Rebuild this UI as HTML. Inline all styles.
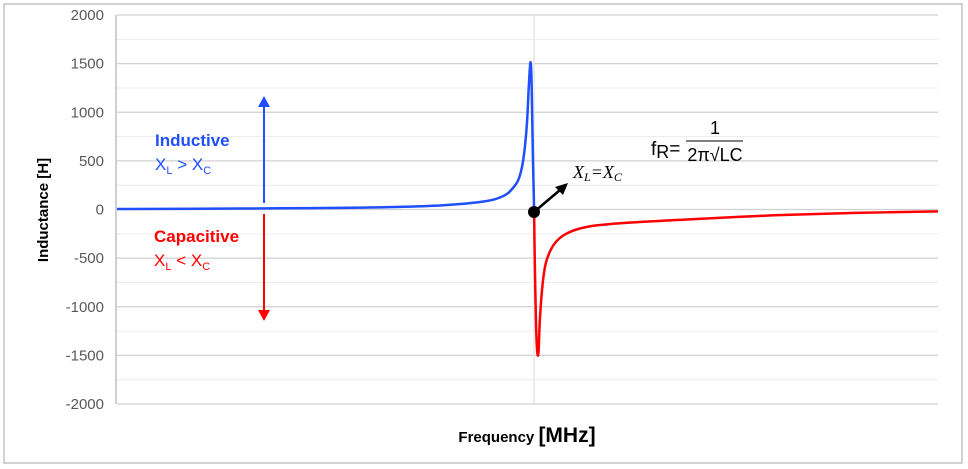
<!DOCTYPE html>
<html><head><meta charset="utf-8"><style>
html,body{margin:0;padding:0;background:#fff;}
svg{display:block;font-family:"Liberation Sans",Arial,sans-serif;}
</style></head><body>
<svg id="chart" width="968" height="469" viewBox="0 0 968 469">
<rect x="4" y="4" width="958" height="459" fill="#fff" stroke="#a6a6a6" stroke-width="1"/>
<g id="grid"></g>
<g id="yticks"></g>
<g id="series"></g>
<text x="48" y="210" transform="rotate(-90 48 210)" text-anchor="middle" font-size="15" font-weight="bold" fill="#000">Inductance [H]</text>
<text x="527" y="442" text-anchor="middle" fill="#000"><tspan font-size="15" font-weight="bold">Frequency </tspan><tspan font-size="21" font-weight="bold">[MHz]</tspan></text>
<g>
<text x="155" y="146" font-size="17" font-weight="bold" fill="#1f4fff">Inductive</text>
<text x="155" y="170" font-size="17" fill="#1f4fff">X<tspan font-size="11" dy="4">L</tspan><tspan dy="-4"> &gt; X</tspan><tspan font-size="11" dy="4">C</tspan></text>
<line x1="264" y1="203" x2="264" y2="106" stroke="#1f4fff" stroke-width="2"/>
<polygon points="258,107 270,107 264,96" fill="#1f4fff"/>
</g>
<g>
<text x="154" y="242" font-size="17" font-weight="bold" fill="#ff0000">Capacitive</text>
<text x="154" y="266" font-size="17" fill="#ff0000">X<tspan font-size="11" dy="4">L</tspan><tspan dy="-4"> &lt; X</tspan><tspan font-size="11" dy="4">C</tspan></text>
<line x1="264" y1="214" x2="264" y2="311" stroke="#ff0000" stroke-width="2"/>
<polygon points="258,310 270,310 264,321" fill="#ff0000"/>
</g>
<g>
<line x1="534" y1="212" x2="560" y2="190" stroke="#000" stroke-width="2.5"/>
<polygon points="568,183 555,187 563,195" fill="#000"/>
<circle cx="534" cy="212" r="6" fill="#000"/>
<text x="573" y="178" font-size="18" font-style="italic" font-family="Liberation Serif, serif" fill="#000">X<tspan font-size="12" dy="3">L</tspan><tspan dy="-3">=X</tspan><tspan font-size="12" dy="3">C</tspan></text>
<text x="651" y="155" font-size="19" fill="#000">f<tspan font-size="18" dy="3">R</tspan><tspan dy="-3">=</tspan></text>
<text x="715" y="134" font-size="18" text-anchor="middle" fill="#000">1</text>
<line x1="686" y1="141" x2="743" y2="141" stroke="#000" stroke-width="1"/>
<text x="715" y="161" font-size="18" text-anchor="middle" fill="#000">2π√LC</text>
</g>
</svg>
<script>
const yTicks=[2000,1500,1000,500,0,-500,-1000,-1500,-2000];
const blueFreq=[0,10,20,30,35,40,44,46,47.5,48.5,49.0,49.5,49.9,50.15,50.3,50.4,50.5,50.65,50.8];
const blueVal=[5,8,12,20,28,45,75,105,160,250,330,520,850,1250,1470,1500,1300,600,0];
const redFreq=[50.8,50.9,51.05,51.2,51.35,51.5,51.8,52.2,52.8,53.5,54.5,56.4,60,70,80,90,100];
const redVal=[0,-600,-1200,-1480,-1450,-1150,-800,-560,-420,-330,-260,-195,-150,-100,-60,-35,-20];
const resonance=50.8;
const L=117,R=938,T=15,B=404;
const xs=f=>L+(f/100)*(R-L);
const ys=v=>T+(2000-v)/4000*(B-T);
const NS='http://www.w3.org/2000/svg';
function mk(tag,attrs,parent){const e=document.createElementNS(NS,tag);for(const k in attrs)e.setAttribute(k,attrs[k]);parent.appendChild(e);return e;}
const grid=document.getElementById('grid');
for(let v=-2000;v<=2000;v+=250){
  const major=v%500===0;
  const g=mk('line',{x1:L,x2:R,y1:ys(v),y2:ys(v),stroke:major?'#d0d0d0':'#ececec','stroke-width':major?1.3:1},grid);
  
  
}
const vl=mk('line',{x1:xs(resonance),x2:xs(resonance),y1:T,y2:B,stroke:'#e6e6e6','stroke-width':1.5},grid);


const ax=mk('line',{x1:L-1,x2:L-1,y1:T,y2:B,stroke:'#bfbfbf','stroke-width':1.5},grid);


const yt=document.getElementById('yticks');
yTicks.forEach(v=>{
  const t=mk('text',{x:104,y:ys(v)+5,'text-anchor':'end','font-size':15,fill:'#595959'},yt);
  t.textContent=v;
  
  
});
const s=document.getElementById('series');
function path(fs,vs,color,name){
  const P=fs.map((f,i)=>[xs(f),ys(vs[i])]);
  let d='M'+P[0][0].toFixed(1)+','+P[0][1].toFixed(1);
  for(let i=0;i<P.length-1;i++){
    const p0=P[i-1]||P[i],p1=P[i],p2=P[i+1],p3=P[i+2]||P[i+1];
    const c1=[p1[0]+(p2[0]-p0[0])/6,p1[1]+(p2[1]-p0[1])/6];
    const c2=[p2[0]-(p3[0]-p1[0])/6,p2[1]-(p3[1]-p1[1])/6];
    d+=' C'+c1.map(n=>n.toFixed(1)).join(',')+' '+c2.map(n=>n.toFixed(1)).join(',')+' '+p2.map(n=>n.toFixed(1)).join(',');
  }
  const p=mk('path',{d:d,fill:'none',stroke:color,'stroke-width':2.5,'stroke-linejoin':'round'},s);
  
  
}
path(redFreq,redVal,'#ff0000','capacitive-series');
path(blueFreq,blueVal,'#1f4fff','inductive-series');
</script>
</body></html>
